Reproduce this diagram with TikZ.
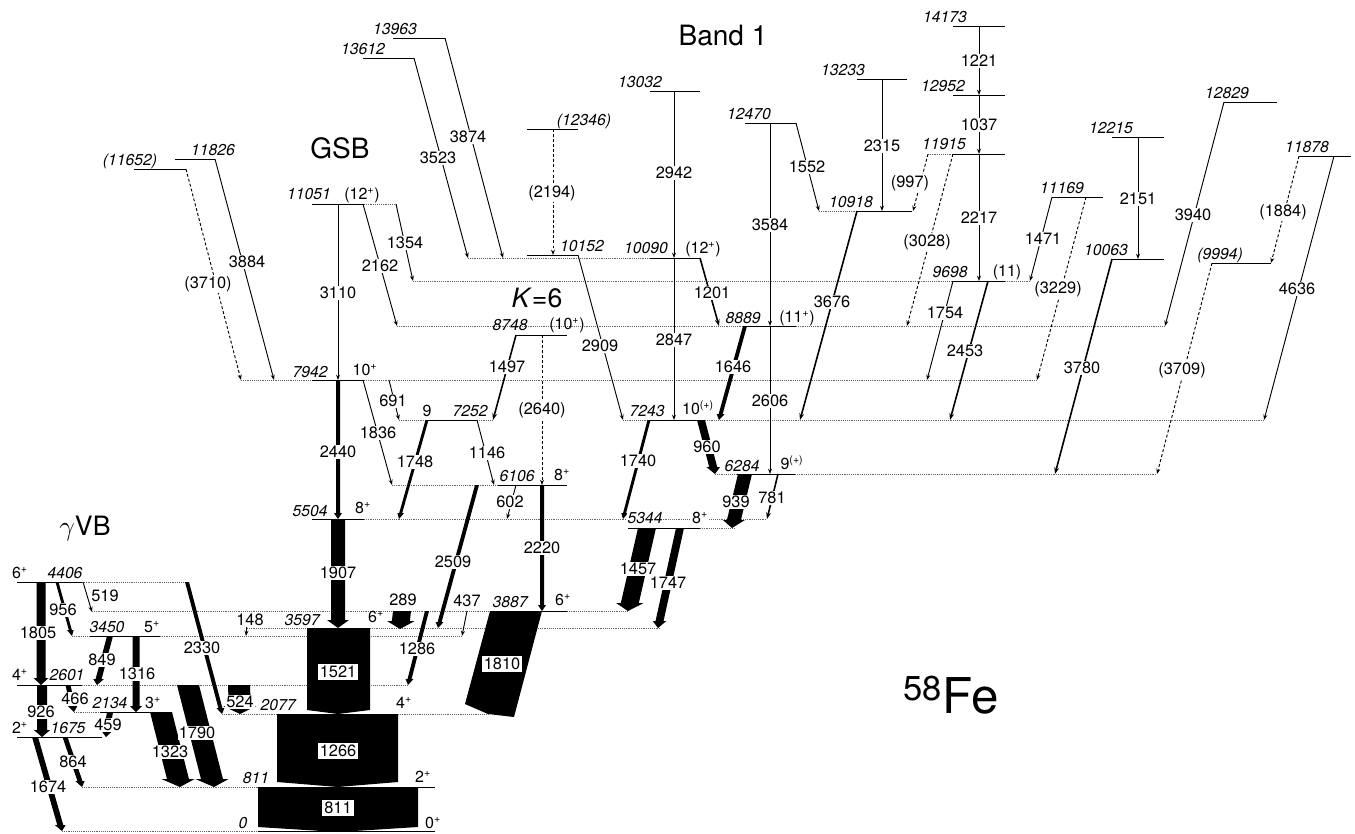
\documentclass[tikz,border=0pt]{standalone}
\usepackage{fontspec}
\setmainfont{TeX Gyre Heros}
\usetikzlibrary{arrows.meta}
\newcommand\fatarrow[6]{%
  \pgfmathsetmacro\fym{#4-#6}%
  \pgfmathsetmacro\fxm{#1+(#3-#1)*(\fym-#2)/(#4-#2)}%
  \pgfmathsetmacro\fhw{#5/2}%
  \pgfmathsetmacro\few{#5/2+0.2*#5+1.2}%
  \fill[black] ({#1-\fhw},#2) -- ({#1+\fhw},#2) -- ({\fxm+\fhw},\fym) -- ({\fxm+\few},\fym) -- (#3,#4) -- ({\fxm-\few},\fym) -- ({\fxm-\fhw},\fym) -- cycle;}
\newcommand\lvlline[3]{\draw[lev] (#1,#3) -- (#2,#3);}
\newcommand\extline[3]{\draw[ext] (#1,#3) -- (#2,#3);}
\newcommand\gline[5][]{\draw[tr,#1] (#2,#3) -- (#4,#5);}
\begin{document}
\begin{tikzpicture}[x=0.75pt,y=-0.75pt,
  lev/.style={line width=0.6pt},
  ext/.style={line width=0.5pt,black!60,dash pattern=on 0.7pt off 0.7pt},
  tr/.style={line width=0.7pt,-{Stealth[length=4pt,width=3pt]}},
  trd/.style={dash pattern=on 2.2pt off 1.6pt},
  trm/.style={line width=1.2pt,-{Stealth[length=5pt,width=3.6pt]}},
  tlab/.style={fill=white,inner sep=0.7pt,font=\fontsize{12.3}{13}\selectfont},
  elab/.style={inner sep=0.6pt,font=\fontsize{11.8}{13}\selectfont\itshape},
  slab/.style={inner sep=0.6pt,font=\fontsize{12}{13}\selectfont},
  blab/.style={fill=white,inner sep=1.5pt,font=\fontsize{12.3}{13}\selectfont},
  big/.style={inner sep=0pt,font=\fontsize{21}{24}\selectfont}]
\useasboundingbox (0,0) rectangle (1355,833);

% ---------- dotted extensions of levels ----------
\extline{928}{953}{154}
\extline{819}{857}{211}
\extline{468}{650}{258}
\extline{364}{397}{204}
\extline{413}{953}{281}\extline{1005}{1030}{281}
\extline{397}{745}{326}\extline{796}{1165}{326}
\extline{241}{312}{380}\extline{364}{1037}{380}
\extline{399}{427}{420}\extline{477}{493}{420}
\extline{623}{650}{420}\extline{705}{1264}{420}
\extline{392}{498}{485}
\extline{715}{737}{474}\extline{795}{1157}{474}
\extline{364}{767}{519}
\extline{700}{735}{528}
\extline{82}{187}{582}
\extline{92}{490}{611}\extline{567}{628}{611}
\extline{247}{307}{628}\extline{370}{660}{628}
\extline{72}{90}{636}\extline{160}{462}{636}
\extline{82}{407}{685}
\extline{74}{100}{712}
\extline{222}{277}{714}\extline{398}{488}{714}
\extline{82}{258}{787}
\extline{62}{258}{831}

% ---------- level lines ----------
\lvlline{953}{1005}{26}
\lvlline{953}{1005}{95}
\lvlline{953}{1005}{154}
\lvlline{857}{907}{79}
\lvlline{745}{796}{123}
\lvlline{857}{912}{211}
\lvlline{527}{578}{129}
\lvlline{393}{445}{38}
\lvlline{363}{414}{58}
\lvlline{650}{700}{91}
\lvlline{527}{578}{255}
\lvlline{650}{700}{258}
\lvlline{312}{364}{204}
\lvlline{134}{186}{169}
\lvlline{175}{215}{159}
\lvlline{1112}{1164}{137}
\lvlline{1224}{1277}{102}
\lvlline{1299}{1351}{156}
\lvlline{1052}{1103}{197}
\lvlline{1112}{1164}{259}
\lvlline{1212}{1271}{263}
\lvlline{953}{1005}{281}
\lvlline{745}{796}{326}
\lvlline{516}{567}{335}
\lvlline{312}{364}{380}
\lvlline{427}{477}{420}
\lvlline{650}{705}{420}
\lvlline{498}{567}{485}
\lvlline{737}{795}{474}
\lvlline{312}{364}{519}
\lvlline{628}{700}{528}
\lvlline{17}{82}{582}
\lvlline{490}{567}{611}
\lvlline{307}{370}{628}
\lvlline{90}{160}{636}
\lvlline{17}{82}{685}
\lvlline{100}{172}{712}
\lvlline{277}{398}{714}
\lvlline{17}{102}{737}
\lvlline{258}{435}{787}
\lvlline{258}{435}{831}

% ---------- thin transitions ----------
\gline{215}{159}{274}{380}
\gline[trd]{186}{169}{241}{380}
\gline{338}{204}{338}{380}
\gline{363}{204}{397}{326}
\gline{396}{204}{413}{281}
\gline{414}{58}{468}{258}
\gline{445}{38}{503}{258}
\gline[trd]{553}{129}{553}{255}
\gline{578}{255}{623}{420}
\gline{674}{91}{674}{258}
\gline{674}{258}{674}{420}
\gline[trm]{700}{258}{719}{326}
\gline{770}{123}{770}{326}
\gline{770}{326}{770}{474}
\gline{796}{123}{819}{211}
\gline{882}{79}{882}{211}
\gline[trd]{928}{154}{913}{211}
\gline[trd]{953}{154}{907}{326}
\gline{979}{26}{979}{95}
\gline{979}{95}{979}{154}
\gline{979}{154}{979}{281}
\gline[trm]{857}{211}{800}{420}
\gline{1052}{197}{1030}{281}
\gline[trd]{1086}{197}{1037}{380}
\gline{1138}{137}{1138}{259}
\gline{1224}{102}{1165}{326}
\gline[trm]{1112}{259}{1055}{474}
\gline[trd]{1299}{156}{1271}{263}
\gline{1334}{156}{1264}{420}
\gline[trd]{1212}{263}{1157}{474}
\gline{953}{281}{927}{380}
\gline[trm]{988}{281}{950}{420}
\gline[trm]{516}{335}{493}{420}
\gline[trd]{542}{335}{542}{485}
\gline{389}{380}{399}{420}
\gline{363}{380}{392}{485}
\gline{477}{420}{494}{485}
\gline[trm]{778}{474}{767}{519}
\gline{516}{485}{507}{519}
\gline{467}{611}{462}{636}
\gline{83}{582}{92}{612}
\gline{247}{624}{246}{636}

% ---------- thick transitions ----------
\fatarrow{41}{582}{41}{685}{9}{7}
\fatarrow{42}{685}{42}{737}{10}{7}
\fatarrow{57}{582}{72}{636}{3}{6}
\fatarrow{110}{636}{97}{685}{6}{6}
\fatarrow{136}{636}{136}{712}{7}{6}
\fatarrow{68}{685}{74}{712}{5}{6}
\fatarrow{110}{712}{106}{737}{6}{6}
\fatarrow{161}{712}{180}{787}{22}{8}
\fatarrow{188}{685}{214}{787}{22}{8}
\fatarrow{239}{685}{240}{714}{22}{8}
\fatarrow{65}{737}{82}{787}{5}{6}
\fatarrow{35}{737}{62}{831}{6}{6}
\fatarrow{187}{582}{222}{714}{4}{6}
\fatarrow{338}{519}{338}{628}{14}{8}
\fatarrow{338}{380}{338}{519}{4}{6}
\fatarrow{427}{420}{399}{519}{3}{6}
\fatarrow{477}{485}{438}{628}{4}{6}
\fatarrow{542}{485}{542}{611}{4}{6}
\fatarrow{427}{611}{408}{685}{4}{6}
\fatarrow{402}{611}{400}{629}{18}{8}
\fatarrow{649}{420}{623}{519}{3}{6}
\fatarrow{647}{528}{628}{611}{18}{8}
\fatarrow{680}{528}{658}{628}{8}{7}
\fatarrow{745}{326}{719}{420}{4}{6}
\fatarrow{701}{420}{715}{474}{8}{7}
\fatarrow{745}{474}{732}{528}{14}{8}

% ---------- big boxes ----------
\fill (258,787) -- (418,787) -- (418,827) -- (338,832) -- (258,827) -- cycle;
\fill (277,714) -- (398,714) -- (398,782) -- (338,787) -- (277,782) -- cycle;
\fill (307,628) -- (370,628) -- (370,710) -- (338,714) -- (307,710) -- cycle;
\fill (490,611) -- (542,611) -- (514,717) -- (488,714) -- (465,704) -- cycle;
\node[blab] (b811) at (338,808) {811};
\node[blab] (b1266) at (338,751) {1266};
\node[blab] (b1521) at (338,672) {1521};
\node[blab] (b1810) at (502,664) {1810};

% ---------- transition labels ----------
\node[tlab] (t3884) at (247,262) {3884};
\node[tlab] (t3710) at (208,284) {(3710)};
\node[tlab] (t3110) at (338,293) {3110};
\node[tlab] (t2162) at (380,266) {2162};
\node[tlab] (t1354) at (405,243) {1354};
\node[tlab] (t3523) at (438,158) {3523};
\node[tlab] (t3874) at (468,137) {3874};
\node[tlab] (t2194) at (552,193) {(2194)};
\node[tlab] (t2909) at (600,346) {2909};
\node[tlab] (t2942) at (674,173) {2942};
\node[tlab] (t2847) at (674,340) {2847};
\node[tlab] (t1201) at (712,293) {1201};
\node[tlab] (t3584) at (770,225) {3584};
\node[tlab] (t2606) at (770,401) {2606};
\node[tlab] (t1552) at (807,167) {1552};
\node[tlab] (t2315) at (882,146) {2315};
\node[tlab] (t997) at (910,183) {(997)};
\node[tlab] (t3028) at (927,242) {(3028)};
\node[tlab] (t1221) at (979,61) {1221};
\node[tlab] (t1037) at (979,125) {1037};
\node[tlab] (t2217) at (979,218) {2217};
\node[tlab] (t3676) at (832,302) {3676};
\node[tlab] (t1471) at (1043,239) {1471};
\node[tlab] (t3229) at (1058,289) {(3229)};
\node[tlab] (t2151) at (1138,199) {2151};
\node[tlab] (t3940) at (1193,215) {3940};
\node[tlab] (t3780) at (1082,368) {3780};
\node[tlab] (t1884) at (1283,212) {(1884)};
\node[tlab] (t4636) at (1297,289) {4636};
\node[tlab] (t3709) at (1182,370) {(3709)};
\node[tlab] (t1754) at (945,313) {1754};
\node[tlab] (t2453) at (965,351) {2453};
\node[tlab] (t1646) at (733,367) {1646};
\node[tlab] (t1497) at (507,367) {1497};
\node[tlab] (t2640) at (542,410) {(2640)};
\node[tlab] (t691) at (393,401) {691};
\node[tlab] (t1836) at (378,433) {1836};
\node[tlab] (t2440) at (338,452) {2440};
\node[tlab] (t1748) at (415,462) {1748};
\node[tlab] (t1146) at (487,453) {1146};
\node[tlab] (t960) at (707,447) {960};
\node[tlab] (t1740) at (638,461) {1740};
\node[tlab] (t939) at (736,502) {939};
\node[tlab] (t781) at (772,498) {781};
\node[tlab] (t602) at (510,502) {602};
\node[tlab] (t2220) at (542,548) {2220};
\node[tlab] (t2509) at (453,562) {2509};
\node[tlab] (t1907) at (338,573) {1907};
\node[tlab] (t1457) at (638,569) {1457};
\node[tlab] (t1747) at (668,583) {1747};
\node[tlab] (t289) at (403,600) {289};
\node[tlab] (t437) at (467,601) {437};
\node[tlab] (t1286) at (417,649) {1286};
\node[tlab] (t148) at (250,620) {148};
\node[tlab] (t1805) at (38,633) {1805};
\node[tlab] (t956) at (63,610) {956};
\node[tlab] (t519) at (105,596) {519};
\node[tlab] (t2330) at (202,648) {2330};
\node[tlab] (t849) at (102,660) {849};
\node[tlab] (t1316) at (137,674) {1316};
\node[tlab] (t926) at (41,712) {926};
\node[tlab] (t466) at (75,699) {466};
\node[tlab] (t459) at (108,725) {459};
\node[tlab] (t1323) at (170,752) {1323};
\node[tlab] (t1790) at (197,733) {1790};
\node[tlab] (t524) at (240,702) {524};
\node[tlab] (t864) at (73,762) {864};
\node[tlab] (t1674) at (48,787) {1674};

% ---------- level energy labels ----------
\node[elab] (e14173) at (945,17) {14173};
\node[elab] (e12952) at (943,86) {12952};
\node[elab] (e11915) at (944,144) {11915};
\node[elab] (e13233) at (843,70) {13233};
\node[elab] (e12470) at (749,114) {12470};
\node[elab] (e10918) at (851,202) {10918};
\node[elab] (e12346) at (584,121) {(12346)};
\node[elab] (e13963) at (395,29) {13963};
\node[elab] (e13612) at (363,49) {13612};
\node[elab] (e13032) at (640,82) {13032};
\node[elab] (e10152) at (582,246) {10152};
\node[elab] (e10090) at (646,248) {10090};
\node[elab] (e11051) at (309,194) {11051};
\node[elab] (e11652) at (130,161) {(11652)};
\node[elab] (e11826) at (213,150) {11826};
\node[elab] (e12215) at (1111,128) {12215};
\node[elab] (e12829) at (1227,93) {12829};
\node[elab] (e11878) at (1307,147) {11878};
\node[elab] (e11169) at (1062,188) {11169};
\node[elab] (e10063) at (1106,250) {10063};
\node[elab] (e9994) at (1220,255) {(9994)};
\node[elab] (e9698) at (950,272) {9698};
\node[elab] (e8889) at (743,318) {8889};
\node[elab] (e8748) at (510,325) {8748};
\node[elab] (e7942) at (310,372) {7942};
\node[elab] (e7252) at (470,411) {7252};
\node[elab] (e7243) at (647,411) {7243};
\node[elab] (e6106) at (517,476) {6106};
\node[elab] (e6284) at (742,466) {6284};
\node[elab] (e5504) at (310,511) {5504};
\node[elab,fill=white] (e5344) at (645,518) {5344};
\node[elab] (e4406) at (65,573) {4406};
\node[elab] (e3887) at (510,602) {3887};
\node[elab] (e3597) at (302,620) {3597};
\node[elab] (e3450) at (107,627) {3450};
\node[elab] (e2601) at (67,675) {2601};
\node[elab] (e2134) at (110,703) {2134};
\node[elab] (e2077) at (278,705) {2077};
\node[elab] (e1675) at (68,728) {1675};
\node[elab] (e811) at (256,778) {811};
\node[elab] (e0) at (243,823) {0};

% ---------- spin labels ----------
\node[slab] (s10090) at (703,249) {(12\textsuperscript{+})};
\node[slab] (s11051) at (362,195) {(12\textsuperscript{+})};
\node[slab] (s9698) at (1007,272) {(11)};
\node[slab] (s8889) at (797,318) {(11\textsuperscript{+})};
\node[slab] (s8748) at (567,325) {(10\textsuperscript{+})};
\node[slab] (s7942) at (365,370) {10\textsuperscript{+}};
\node[slab] (s7252) at (427,411) {9};
\node[slab] (s7243) at (698,408) {10\textsuperscript{(+)}};
\node[slab] (s6106) at (562,475) {8\textsuperscript{+}};
\node[slab] (s6284) at (792,463) {9\textsuperscript{(+)}};
\node[slab] (s5504) at (363,508) {8\textsuperscript{+}};
\node[slab,fill=white] (s5344) at (700,518) {8\textsuperscript{+}};
\node[slab] (s4406) at (20,573) {6\textsuperscript{+}};
\node[slab] (s3887) at (563,600) {6\textsuperscript{+}};
\node[slab] (s3597) at (376,617) {6\textsuperscript{+}};
\node[slab] (s3450) at (152,627) {5\textsuperscript{+}};
\node[slab] (s2601) at (20,675) {4\textsuperscript{+}};
\node[slab] (s2134) at (153,703) {3\textsuperscript{+}};
\node[slab] (s2077) at (404,703) {4\textsuperscript{+}};
\node[slab] (s1675) at (20,728) {2\textsuperscript{+}};
\node[slab] (s811) at (423,777) {2\textsuperscript{+}};
\node[slab] (s0) at (433,823) {0\textsuperscript{+}};

% ---------- band names ----------
\node[big] (gsb) at (340,148) {GSB};
\node[big] (band1) at (723,35) {Band 1};
\node[big,font=\fontsize{20}{22}\selectfont] (k6) at (537,298) {\textit{K}=6};
\node[big,font=\fontsize{20}{22}\selectfont] (gvb) at (85,528) {$\gamma$VB};
\node[inner sep=0pt,anchor=base,font=\fontsize{37}{40}\selectfont] (fe) at (951,713) {\textsuperscript{58}Fe};
\end{tikzpicture}
\end{document}
